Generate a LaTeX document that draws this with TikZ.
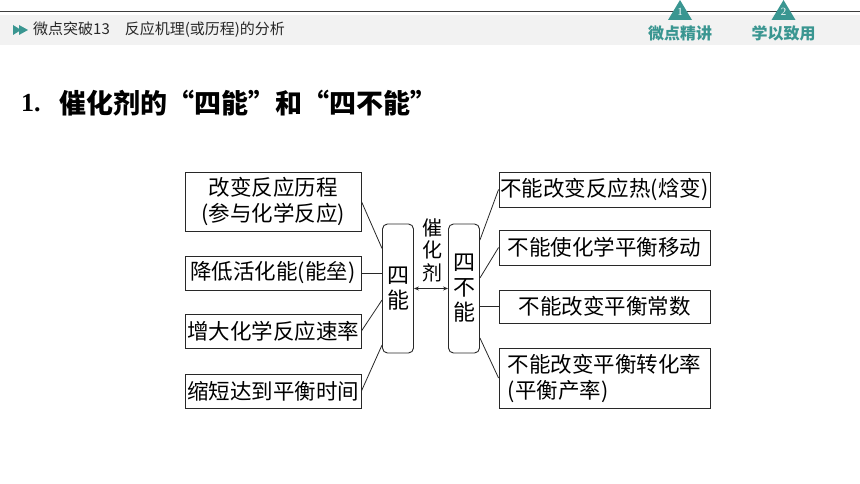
\documentclass[tikz,border=0pt]{standalone}
\usepackage{fontspec}
\setmainfont{Liberation Serif}
\newfontfamily\cjk{Noto Sans CJK SC}
\usetikzlibrary{arrows.meta}
\definecolor{teal1}{RGB}{58,150,145}
\definecolor{band}{RGB}{242,242,242}
\definecolor{ink}{RGB}{40,40,40}
\begin{document}
\begin{tikzpicture}[x=1pt,y=-1pt,
  box/.style={draw=ink, line width=0.9pt, inner sep=0pt, align=center,
    font=\cjk\fontsize{21.5}{26}\selectfont},
  rbox/.style={draw=ink, line width=0.9pt, inner sep=0pt, rounded corners=5pt,
    align=center, minimum width=31, minimum height=129,
    font=\cjk\fontsize{22}{25}\selectfont},
  conn/.style={draw=ink, line width=0.8pt},
  tri/.style={fill=teal1, draw=none},
  toplabel/.style={text=teal1, font=\cjk\bfseries\fontsize{16}{18}\selectfont},
  trinum/.style={text=white, font=\fontsize{11}{12}\selectfont}
]
\useasboundingbox (0,0) rectangle (860,484);
\fill[white] (0,0) rectangle (860,484);
% header
\fill[band] (0,15) rectangle (860,45);
\draw[draw=ink!90, line width=1.1pt] (0,11.5) -- (860,11.5);
\fill[tri] (13,25) -- (21,30) -- (13,35) -- cycle;
\fill[tri] (19,25) -- (28,30) -- (19,35) -- cycle;
\node[anchor=west, inner sep=0pt, text=ink, font=\cjk\fontsize{15}{17}\selectfont] (hdr) at (33,30) {微点突破13\hspace{1em}反应机理(或历程)的分析};
\fill[tri] (680,0) -- (692,20) -- (668,20) -- cycle;
\fill[tri] (783.5,0) -- (795.5,20) -- (771.5,20) -- cycle;
\node[trinum] (n1) at (680,12) {1};
\node[trinum] (n2) at (783.5,12) {2};
\node[toplabel] (t1) at (680,33.5) {微点精讲};
\node[toplabel] (t2) at (783.5,33.5) {学以致用};
% title
\node[anchor=west, inner sep=0pt, font=\bfseries\fontsize{26}{28}\selectfont] (num) at (21,103) {1.};
\node[anchor=west, inner sep=0pt, font=\cjk\bfseries\fontsize{27}{29}\selectfont] (title) at (59,103) {催化剂的“四能”和“四不能”};
% left boxes
\node[box, minimum width=176, minimum height=59] (L1) at (273,201.5) {改变反应历程\\(参与化学反应)};
\node[box, minimum width=176, minimum height=34] (L2) at (273,273) {降低活化能(能垒)};
\node[box, minimum width=176, minimum height=34] (L3) at (273,331) {增大化学反应速率};
\node[box, minimum width=176, minimum height=34] (L4) at (273,391) {缩短达到平衡时间};
% middle
\node[rbox] (SN) at (398,288.5) {四\\能};
\node[rbox] (SB) at (464,288.5) {四\\不\\能};
\node[inner sep=0pt, align=center, font=\cjk\fontsize{20}{22.5}\selectfont] (C) at (432,250) {催\\化\\剂};
\draw[conn, {Stealth[length=5pt,width=4pt]}-{Stealth[length=5pt,width=4pt]}] (SN.east) -- (SB.west);
% right boxes
\node[box, minimum width=211, minimum height=35] (R1) at (604.5,189.5) {不能改变反应热(焓变)};
\node[box, minimum width=211, minimum height=35] (R2) at (604.5,247.5) {不能使化学平衡移动};
\node[box, minimum width=211, minimum height=33] (R3) at (604.5,306.5) {不能改变平衡常数};
\node[box, minimum width=211, minimum height=60, align=left] (R4) at (604.5,378) {不能改变平衡转化率\\(平衡产率)};
% connectors left
\draw[conn] (L1.east) -- ([yshift=40pt]SN.west);
\draw[conn] (L2.east) -- ([yshift=15.5pt]SN.west);
\draw[conn] (L3.east) -- ([yshift=-11.5pt]SN.west);
\draw[conn] (L4.east) -- ([yshift=-56.5pt]SN.west);
% connectors right
\draw[conn] ([yshift=48.5pt]SB.east) -- (R1.west);
\draw[conn] ([yshift=10.5pt]SB.east) -- (R2.west);
\draw[conn] ([yshift=-18pt]SB.east) -- (R3.west);
\draw[conn] ([yshift=-49.5pt]SB.east) -- (R4.west);
\end{tikzpicture}
\end{document}
